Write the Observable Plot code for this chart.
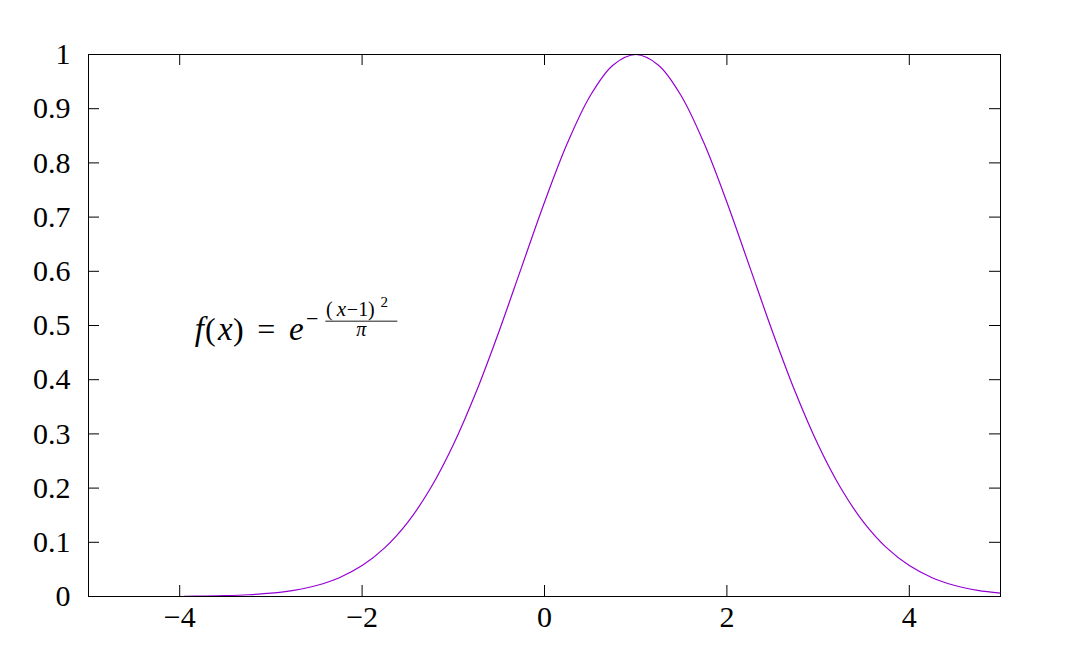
<!DOCTYPE html>
<html>
<head>
<meta charset="utf-8">
<script src="https://cdn.jsdelivr.net/npm/d3@7"></script>
<script src="https://cdn.jsdelivr.net/npm/@observablehq/plot@0.6"></script>
<style>
  html, body { margin: 0; padding: 0; background: #fff; }
  svg, svg text { font-family: "Liberation Serif", "DejaVu Serif", serif; }
</style>
</head>
<body>
<div id="chart"></div>
<script>
// Curve samples
const xs = [-3.95, -3.75, -3.5, -3.25, -3, -2.75, -2.5, -2.25, -2, -1.75, -1.5, -1.25, -1, -0.75, -0.5, -0.25,
            0, 0.25, 0.5, 0.75, 1, 1.25, 1.5, 1.75, 2, 2.25, 2.5, 2.75, 3, 3.25, 3.5, 3.75, 4, 4.25, 4.5, 4.75, 5];
const ys = [0.0004, 0.0008, 0.0016, 0.0032, 0.0061, 0.0114, 0.0203, 0.0347, 0.0570, 0.0901, 0.1368, 0.1996, 0.2799, 0.3772, 0.4886, 0.6082,
            0.7274, 0.8361, 0.9235, 0.9803, 1.0000, 0.9803, 0.9235, 0.8361, 0.7274, 0.6082, 0.4886, 0.3772, 0.2799, 0.1996, 0.1368, 0.0901, 0.0570, 0.0347, 0.0203, 0.0114, 0.0061];
const xTicks = [-4, -2, 0, 2, 4];
const yTicks = [0, 0.1, 0.2, 0.3, 0.4, 0.5, 0.6, 0.7, 0.8, 0.9, 1];
const labelPos = {x: -3.9, y: 0.472};

const data = xs.map((x, i) => ({x, y: ys[i]}));
const xTickData = xTicks.map(x => ({x}));
const yTickData = yTicks.map(y => ({y}));
const W = 1065, H = 668, mL = 88, mR = 65, mT = 54, mB = 72;
const fw = W - mL - mR, fh = H - mT - mB, tick = 11;
const font = "'Liberation Serif', serif";
const fmtX = d => d < 0 ? "\u2212" + Math.abs(d) : String(d);

const plot = Plot.plot({
  width: W, height: H,
  marginLeft: mL, marginRight: mR, marginTop: mT, marginBottom: mB,
  style: {fontFamily: font, fontSize: "30px", color: "#000", background: "#fff"},
  x: {domain: [-5, 5]},
  y: {domain: [0, 1]},
  marks: [
    Plot.ruleX(xTickData, {x: "x", y1: () => 1, y2: () => 0, insetTop: fh - tick, stroke: "#000"}),
    Plot.ruleX(xTickData, {x: "x", y1: () => 1, y2: () => 0, insetBottom: fh - tick, stroke: "#000"}),
    Plot.ruleY(yTickData, {y: "y", x1: () => -5, x2: () => 5, insetRight: fw - tick, stroke: "#000"}),
    Plot.ruleY(yTickData, {y: "y", x1: () => -5, x2: () => 5, insetLeft: fw - tick, stroke: "#000"}),
    Plot.axisX(xTicks, {tickSize: 0, tickPadding: 9, tickFormat: fmtX, fontSize: 30, fontFamily: font, label: null}),
    Plot.axisY(yTicks, {tickSize: 0, tickPadding: 18, tickFormat: d => String(d), fontSize: 30, fontFamily: font, label: null}),
    Plot.line(data, {x: "x", y: "y", stroke: "#9400d3", strokeWidth: 1.2, curve: "catmull-rom"}),
    Plot.frame({stroke: "#000", strokeWidth: 1})
  ]
});
document.getElementById("chart").append(plot);

// Formula annotation positioned through the plot's scales
const sx = plot.scale("x"), sy = plot.scale("y");
const x0 = sx.apply(labelPos.x), y0 = sy.apply(labelPos.y);
const g = d3.select(plot).append("g").attr("font-family", font).attr("fill", "#000");
function t(dx, dy, s, size, italic) {
  g.append("text").attr("x", x0 + dx).attr("y", y0 + dy).attr("font-size", size)
    .attr("font-style", italic ? "italic" : "normal").attr("text-anchor", "middle").text(s);
}
t(11, 0, "f", 33, true);
t(22, 0, "(", 32, false);
t(37, 0, "x", 33, true);
t(50, 0, ")", 32, false);
t(78, 0, "=", 32, false);
t(108, 0, "e", 33, true);
t(124, -14, "\u2212", 22, false);
t(141, -24, "(", 20, false);
t(153, -24, "x", 21, true);
t(164, -24, "\u2212", 20, false);
t(175, -24, "1", 20, false);
t(183, -24, ")", 20, false);
t(196, -33, "2", 15, false);
g.append("line").attr("x1", x0 + 137).attr("x2", x0 + 209).attr("y1", y0 - 19).attr("y2", y0 - 19)
  .attr("stroke", "#000").attr("stroke-width", 0.9);
t(173, -4, "\u03c0", 20, true);
</script>
</body>
</html>
